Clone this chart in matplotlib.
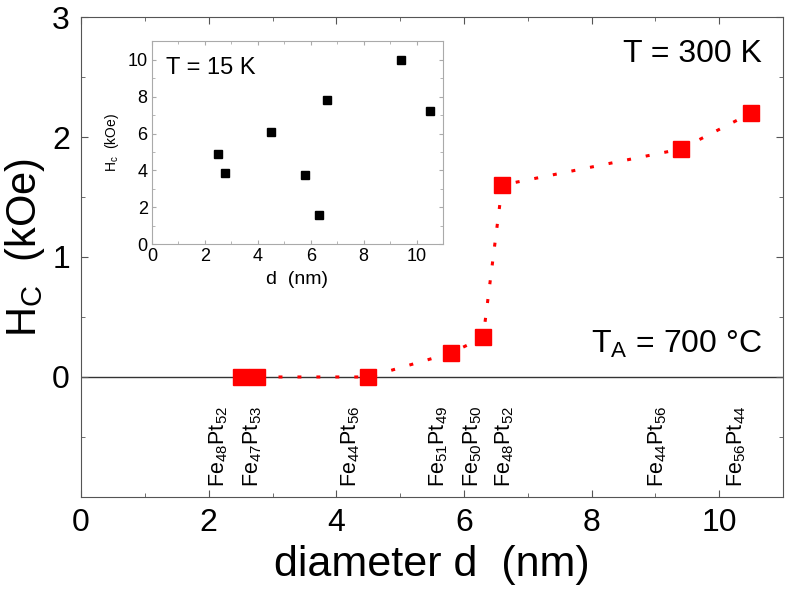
import matplotlib
matplotlib.use("Agg")
import matplotlib.pyplot as plt
from matplotlib.ticker import MultipleLocator, FixedLocator

plt.rcParams['font.family'] = ['Liberation Sans', 'DejaVu Sans']
plt.rcParams['mathtext.fontset'] = 'custom'
plt.rcParams['mathtext.rm'] = 'Liberation Sans'
plt.rcParams['mathtext.it'] = 'Liberation Sans'

# main panel, T = 300 K
d = [2.5, 2.75, 4.5, 5.8, 6.3, 6.6, 9.4, 10.5]
hc_300 = [0.0, 0.0, 0.0, 0.2, 0.33, 1.6, 1.9, 2.2]

# inset, T = 15 K
hc_15 = [4.9, 3.85, 6.1, 3.75, 1.6, 7.8, 10.0, 7.25]

# compositions (Fe, Pt) and where the labels sit
fe = [48, 47, 44, 51, 50, 48, 44, 56]
pt = [52, 53, 56, 49, 50, 52, 56, 44]
label_x = [2.15, 2.69, 4.23, 5.6, 6.13, 6.64, 9.03, 10.28]

gray = '#555555'

fig = plt.figure(figsize=(7.87, 6.09), dpi=100)
ax = fig.add_axes([0.103, 0.184, 0.892, 0.788])

ax.axhline(0, color='#333333', lw=1.0, zorder=1)
ax.plot(d, hc_300, color='red', lw=2.2, ls=(0, (1.3, 4.9)), zorder=2)
ax.plot(d, hc_300, ls='none', marker='s', ms=11, color='red', zorder=3)

ax.set_xlim(0, 11)
ax.set_ylim(-1.0, 3)
ax.xaxis.set_major_locator(MultipleLocator(2))
ax.xaxis.set_minor_locator(MultipleLocator(1))
ax.yaxis.set_major_locator(FixedLocator([0, 1, 2, 3]))
ax.yaxis.set_minor_locator(FixedLocator([-0.5, 0.5, 1.5, 2.5]))
ax.tick_params(which='both', direction='in', top=True, right=True, color=gray)
ax.tick_params(which='major', length=5, labelsize=23, pad=8)
ax.tick_params(which='minor', length=3)
for s in ax.spines.values():
    s.set_color(gray)

ax.set_xlabel('diameter d  (nm)', fontsize=31, labelpad=5)
ax.set_ylabel('H$_\\mathregular{C}$  (kOe)', fontsize=30)
ax.yaxis.set_label_coords(-0.048, 0.52)

ax.text(0.97, 0.906, 'T = 300 K', transform=ax.transAxes, fontsize=23,
        ha='right', va='baseline')
ax.text(0.97, 0.30, 'T$_\\mathregular{A}$ = 700 °C', transform=ax.transAxes,
        fontsize=23, ha='right', va='baseline')

for x, f, p in zip(label_x, fe, pt):
    ax.text(x, -0.92, 'Fe$_{%d}$Pt$_{%d}$' % (f, p), rotation=90, fontsize=15.5,
            ha='center', va='bottom')

# inset
ins = fig.add_axes([0.193, 0.599, 0.370, 0.333])
ins.plot(d, hc_15, ls='none', marker='s', ms=5.5, color='black')
ins.set_xlim(0, 11)
ins.set_ylim(0, 11)
ins.xaxis.set_major_locator(MultipleLocator(2))
ins.xaxis.set_minor_locator(MultipleLocator(1))
ins.yaxis.set_major_locator(MultipleLocator(2))
ins.yaxis.set_minor_locator(MultipleLocator(1))
ins.tick_params(which='both', direction='in', top=True, right=True, color='#aaaaaa')
ins.tick_params(which='major', length=3, labelsize=13, pad=3)
ins.tick_params(which='minor', length=2)
for s in ins.spines.values():
    s.set_color('#aaaaaa')
ins.set_xlabel('d  (nm)', fontsize=14, labelpad=4)
ins.set_ylabel('H$_\\mathregular{c}$  (kOe)', fontsize=10, labelpad=5)
ins.text(0.05, 0.84, 'T = 15 K', transform=ins.transAxes, fontsize=17,
         ha='left', va='baseline')

fig.savefig('out.png', dpi=100)
